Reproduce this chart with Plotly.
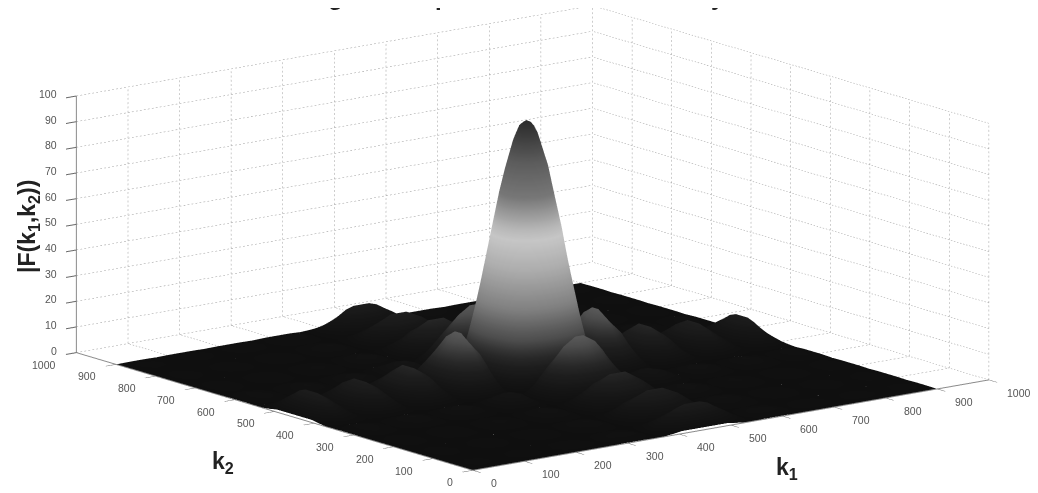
import numpy as np
import plotly.graph_objects as go

# distance from the central peak (k = 450) at which the surface was read
offsets = [0,8,15,30,45,60,75,93,113,133,160,186,208,229,255,279,301,323,348,372,395,417,450]
centre_k = 450
# |F| for one quadrant, the other three mirror it
quadrant = [
[100,99,96,85,68,47,24,3,16,22,15,3,9,12,8,2,7,10,6,2,6,9,1],
[99,98,95,84,67,46.5,24,3,16,22,15,3,9,12,8,2,7,10,6,2,6,9,1],
[96,95,92,82,65,45,23,3,15,21,14,3,9,12,8,2,7,10,6,2,6,9,1],
[85,84,82,72,58,40,20,3,14,19,13,3,8,10,7,2,6,8.5,5,2,5,8,1],
[68,67,65,58,46,32,16,2,11,15,10,2,6,8,5,1,5,7,4,1,4,6,1],
[47,46.5,45,40,32,22,11,1.4,7.5,10,7,1.4,4,5.6,3.8,.9,3.3,4.7,2.8,.9,2.8,4.2,.5],
[24,24,23,20,16,11,5.8,.7,3.8,5.3,3.6,.7,2.2,2.9,1.9,.5,1.7,2.4,1.4,.5,1.4,2.2,.2],
[3,3,3,3,2,1.4,.7,.1,.5,.7,.5,.1,.3,.4,.2,.1,.2,.3,.2,.1,.2,.3,0],
[16,16,15,14,11,7.5,3.8,.5,2.6,3.5,2.4,.5,1.4,1.9,1.3,.3,1.1,1.6,1,.3,1,1.4,.2],
[22,22,21,19,15,10,5.3,.7,3.5,4.8,3.3,.7,2,2.6,1.8,.4,1.5,2.2,1.3,.4,1.3,2,.2],
[15,15,14,13,10,7,3.6,.5,2.4,3.3,2.3,.5,1.4,1.8,1.2,.3,1.1,1.5,.9,.3,.9,1.4,.2],
[3,3,3,3,2,1.4,.7,.1,.5,.7,.5,.1,.3,.4,.2,.1,.2,.3,.2,.1,.2,.3,0],
[9,9,9,8,6,4.2,2.2,.3,1.4,2,1.4,.3,.8,1.1,.7,.2,.6,.9,.5,.2,.5,.8,.1],
[12,12,12,10,8,5.6,2.9,.4,1.9,2.6,1.8,.4,1.1,1.4,1,.2,.8,1.2,.7,.2,.7,1.1,.1],
[8,8,8,7,5,3.8,1.9,.2,1.3,1.8,1.2,.2,.7,1,.6,.2,.6,.8,.5,.2,.5,.7,.1],
[2,2,2,2,1,.9,.5,.1,.3,.4,.3,.1,.2,.2,.2,0,.1,.2,.1,0,.1,.2,0],
[7,7,7,6,5,3.3,1.7,.2,1.1,1.5,1.1,.2,.6,.8,.6,.1,.5,.7,.4,.1,.4,.6,.1],
[10,10,10,8.5,7,4.7,2.4,.3,1.6,2.2,1.5,.3,.9,1.2,.8,.2,.7,1,.6,.2,.6,.9,.1],
[6,6,6,5,4,2.8,1.4,.2,1,1.3,.9,.2,.5,.7,.5,.1,.4,.6,.4,.1,.4,.5,.1],
[2,2,2,2,1,.9,.5,.1,.3,.4,.3,.1,.2,.2,.2,0,.1,.2,.1,0,.1,.2,0],
[6,6,6,5,4,2.8,1.4,.2,1,1.3,.9,.2,.5,.7,.5,.1,.4,.6,.4,.1,.4,.5,.1],
[9,9,9,8,6,4.2,2.2,.3,1.4,2,1.4,.3,.8,1.1,.7,.2,.6,.9,.5,.2,.5,.8,.1],
[1,1,1,1,1,.5,.2,0,.2,.2,.2,0,.1,.1,.1,0,.1,.1,.1,0,.1,.1,0],
]
tick_xy = [0,100,200,300,400,500,600,700,800,900,1000]
tick_z = [0,10,20,30,40,50,60,70,80,90,100]
title_text = "Magnitude spectrum of 2-D sinc array"

d = np.array(offsets, float)
k = np.concatenate([centre_k - d[::-1], centre_k + d[1:]])
q = np.array(quadrant, float)
top = np.concatenate([q[::-1, ::-1], q[::-1, 1:]], axis=1)
bot = np.concatenate([q[1:, ::-1], q[1:, 1:]], axis=1)
z = np.concatenate([top, bot], axis=0)

gray_scale = [
    [0, "#0f0f0f"], [.04, "#141414"], [.09, "#1d1d1d"], [.12, "#272727"], [.15, "#353535"],
    [.19, "#4d4d4d"], [.22, "#5a5a5a"], [.3, "#808080"], [.45, "#adadad"], [.56, "#c6c6c6"],
    [.6, "#b8b8b8"], [.66, "#999999"], [.72, "#777777"], [.85, "#5c5c5c"], [.95, "#3c3c3c"], [1, "#2c2c2c"],
]

fig = go.Figure(go.Surface(
    x=k, y=k, z=z, cmin=0, cmax=100, colorscale=gray_scale, showscale=False,
    lighting=dict(ambient=1, diffuse=0, specular=0, fresnel=0, roughness=1),
    contours=dict(x=dict(highlight=False), y=dict(highlight=False), z=dict(highlight=False)),
))

# dotted wall and floor grid, built from the tick lists: each grid line is cut into short dots
gx, gy, gz = [], [], []
def dotted(a, b, dots):
    for s in np.arange(dots) / dots:
        e = s + 0.45 / dots
        for f in (s, e):
            gx.append(a[0] + (b[0]-a[0])*f); gy.append(a[1] + (b[1]-a[1])*f); gz.append(a[2] + (b[2]-a[2])*f)
        gx.append(None); gy.append(None); gz.append(None)
hi = tick_xy[-1]; edge = tick_xy[-2]; lo = tick_xy[0]; ztop = tick_z[-1]; zlo = tick_z[0]
for t in tick_xy:
    dotted((t, hi, zlo), (t, hi, ztop), 60)   # wall k2 = 1000, verticals
    dotted((hi, t, zlo), (hi, t, ztop), 60)   # wall k1 = 1000, verticals
    # the floor only shows past the edge of the surface
    dotted((t, edge, zlo), (t, hi, zlo), 13)
    dotted((edge, t, zlo), (hi, t, zlo), 13)
for t in tick_z:
    dotted((lo, hi, t), (hi, hi, t), 130)
    dotted((hi, lo, t), (hi, hi, t), 130)
fig.add_trace(go.Scatter3d(x=gx, y=gy, z=gz, mode="lines", hoverinfo="skip", showlegend=False,
                           connectgaps=False, line=dict(color="#9a9a9a", width=1)))

def axis(ticks, ticklen):
    return dict(
        range=[ticks[0], ticks[-1]], tickvals=ticks, title=dict(text=""),
        showgrid=False, showticklabels=False,
        showbackground=False, showline=True, linecolor="#8a8a8a", linewidth=2,
        zeroline=False, ticks="outside", ticklen=ticklen, tickcolor="#666666", tickwidth=2,
        showspikes=False,
    )

# tick labels are anchored on the axes through the scene's own scales
tick_font = dict(family="Liberation Sans", size=10.5, color="#555555")
scene_labels = []
for t in tick_xy:
    scene_labels.append(dict(x=t, y=lo, z=zlo, text=str(t), showarrow=False, font=tick_font,
                             xanchor="left", yanchor="middle", xshift=16, yshift=-13))
    scene_labels.append(dict(x=lo, y=t, z=zlo, text=str(t), showarrow=False, font=tick_font,
                             xanchor="right", yanchor="middle", xshift=-18, yshift=-12))
for t in tick_z:
    scene_labels.append(dict(x=lo, y=hi, z=t, text=str(t), showarrow=False, font=tick_font,
                             xanchor="right", yanchor="middle", xshift=-17, yshift=2))

R = 4
S = 2.64
cx, cy, cz = -0.018, 0.014, -0.069
fig.update_layout(
    width=1038, height=493, margin=dict(l=0, r=0, t=0, b=0),
    paper_bgcolor="white", showlegend=False,
    scene=dict(
        domain=dict(x=[0, 1], y=[0, 1]),
        xaxis=axis(tick_xy, 13), yaxis=axis(tick_xy, 13), zaxis=axis(tick_z, 13),
        annotations=scene_labels,
        aspectmode="manual", aspectratio=dict(x=S, y=S, z=0.405*S),
        camera=dict(
            projection=dict(type="orthographic"),
            eye=dict(x=-0.593*R + cx, y=-0.772*R + cy, z=0.228*R + cz),
            center=dict(x=cx, y=cy, z=cz),
            up=dict(x=0, y=0, z=1),
        ),
    ),
)

def label(text, px, py, size, angle=0):
    fig.add_annotation(x=px/1038, y=1-py/493, xref="paper", yref="paper", text=text,
                       xanchor="center", yanchor="middle",
                       showarrow=False, textangle=angle,
                       font=dict(family="Liberation Sans", size=size, color="#222222"))

label("<b>|F(k<sub>1</sub>,k<sub>2</sub>))</b>", 20, 219, 23, -90)
label("<b>k<sub>1</sub></b>", 779, 460, 23)
label("<b>k<sub>2</sub></b>", 215, 454, 23)
fig.add_annotation(x=502/1038, y=1, xref="paper", yref="paper", xanchor="center", yanchor="bottom", yshift=-4,
                   text="<b>" + title_text + "</b>", showarrow=False,
                   font=dict(family="Liberation Sans", size=24, color="#222222"))

fig.write_html("out.html")
